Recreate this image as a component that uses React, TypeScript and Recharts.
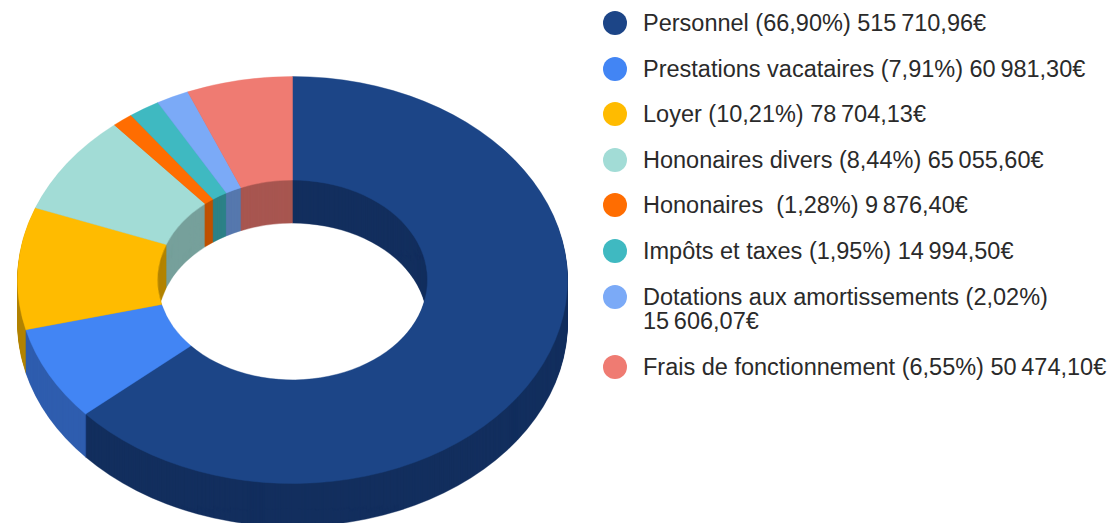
import { Cell, Legend, Pie, PieChart, Sector } from "recharts";

const labels = [
  "Personnel (66,90%) 515\u2009710,96€",
  "Prestations vacataires (7,91%) 60\u2009981,30€",
  "Loyer (10,21%) 78\u2009704,13€",
  "Hononaires divers (8,44%) 65\u2009055,60€",
  "Hononaires\u00A0 (1,28%) 9\u2009876,40€",
  "Impôts et taxes (1,95%) 14\u2009994,50€",
  "Dotations aux amortissements (2,02%) 15\u2060\u2009\u2060606,07€",
  "Frais de fonctionnement (6,55%) 50\u2009474,10€",
];
const amounts = [515710.96, 60981.3, 78704.13, 65055.6, 9876.4, 14994.5, 15606.07, 50474.1];
const topColors = ["#1c4587", "#4285f4", "#ffbb00", "#a2dcd6", "#ff6d01", "#3fb9c1", "#7baaf7", "#ef7b72"];
const wallColors = ["#132f5e", "#2e5daf", "#b38300", "#76a09b", "#bf5000", "#2c8187", "#5678ad", "#a85650"];

const rows = labels.map((name, i) => ({ name, value: amounts[i] }));

const CX = 292.5;
const CY = 280;
const DEPTH = 43;
const SQUASH = 0.74;
const layers = Array.from({ length: DEPTH }, (_, i) => DEPTH - i);

// the ring is drawn round, then flattened and pushed down for the 3D look
const flatSector = (offset: number) => (props: any) => (
  <g transform={`translate(0 ${CY + offset}) scale(1 ${SQUASH}) translate(0 ${-CY})`}>
    <Sector
      cx={props.cx}
      cy={props.cy}
      innerRadius={props.innerRadius}
      outerRadius={props.outerRadius}
      startAngle={props.startAngle}
      endAngle={props.endAngle}
      fill={props.fill}
      stroke={props.fill}
      strokeWidth={0.5}
    />
  </g>
);

const renderLegend = () => (
  <div style={{ width: 508 }}>
    {labels.map((label, i) => (
      <div key={label} style={{ display: "flex", alignItems: "flex-start", paddingBottom: 21 }}>
        <span
          style={{
            flex: "none",
            width: 24,
            height: 24,
            borderRadius: "50%",
            background: topColors[i],
            marginRight: 16,
          }}
        />
        <span style={{ fontSize: 23.5, lineHeight: "24.6px", color: "#2a2a2a", width: 468 }}>{label}</span>
      </div>
    ))}
  </div>
);

export default function App() {
  return (
    <div style={{ position: "absolute", left: 0, top: 0, width: 1111, height: 523, overflow: "hidden", fontFamily: "'Liberation Sans', Arial, sans-serif" }}>
      <PieChart width={1111} height={523} margin={{ top: 0, right: 0, bottom: 0, left: 0 }}>
        {layers.map((offset) => (
          <Pie
            key={offset}
            data={rows}
            dataKey="value"
            cx={CX}
            cy={CY}
            innerRadius={135}
            outerRadius={275}
            startAngle={90}
            endAngle={-270}
            isAnimationActive={false}
            shape={flatSector(offset)}
            legendType="none"
          >
            {rows.map((r, i) => (
              <Cell key={r.name} fill={wallColors[i]} />
            ))}
          </Pie>
        ))}
        <Pie
          data={rows}
          dataKey="value"
          cx={CX}
          cy={CY}
          innerRadius={135}
          outerRadius={275}
          startAngle={90}
          endAngle={-270}
          isAnimationActive={false}
          shape={flatSector(0)}
        >
          {rows.map((r, i) => (
            <Cell key={r.name} fill={topColors[i]} />
          ))}
        </Pie>
        <Legend content={renderLegend} wrapperStyle={{ left: 603, top: 11, width: 508, bottom: "auto" }} />
      </PieChart>
    </div>
  );
}
